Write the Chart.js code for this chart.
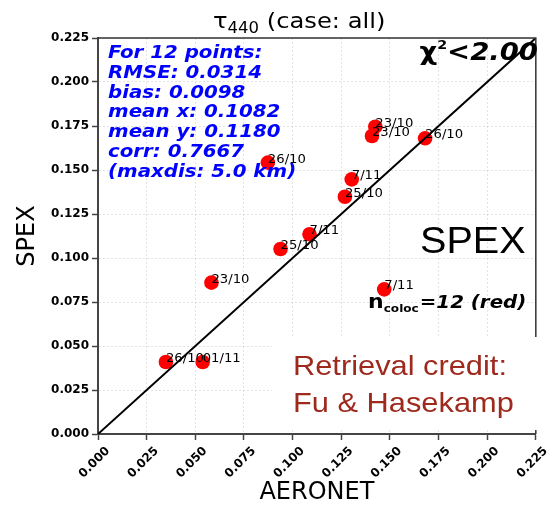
<!DOCTYPE html>
<html>
<head>
<meta charset="utf-8">
<script src="https://cdn.jsdelivr.net/npm/chart.js@4/dist/chart.umd.min.js"></script>
<style>
  html, body { margin: 0; padding: 0; background: #ffffff; }
  #wrap { width: 550px; height: 508px; }
</style>
</head>
<body>
<div id="wrap"><canvas id="c" width="550" height="508"></canvas></div>
<script>
// ---------- data ----------
const dates   = ['26/10','01/11','23/10','7/11','25/10','7/11','25/10','7/11','26/10','23/10','23/10','26/10'];
const aeronet = [0.0349, 0.0538, 0.0583, 0.1471, 0.0938, 0.1087, 0.1269, 0.1304, 0.0873, 0.1425, 0.1408, 0.1681];
const spex    = [0.0409, 0.0409, 0.0860, 0.0822, 0.1051, 0.1135, 0.1348, 0.1447, 0.1542, 0.1746, 0.1693, 0.1680];
const oneToOne = [0, 0.225];
const axisMin = 0, axisMax = 0.225, axisStep = 0.025;
const statsLines = ['For 12 points:', 'RMSE: 0.0314', 'bias: 0.0098', 'mean x: 0.1082', 'mean y: 0.1180', 'corr: 0.7667', '(maxdis: 5.0 km)'];
const chiText = ['\u03C7', '2', '<2.00'];
const ncolocText = ['n', 'coloc', '=12 (red)'];
const creditLines = ['Retrieval credit:', 'Fu & Hasekamp'];
const titleParts = ['\u03C4', '440', ' (case: all)'];
const xTitle = 'AERONET', yTitle = 'SPEX', bigLabel = 'SPEX';

// ---------- helpers ----------
const SX = 1.1; // horizontal stretch of the original picture
const FF = "'DejaVu Sans'";
function txt(ctx, s, x, y, font, color, align) {
  ctx.save();
  ctx.font = font;
  ctx.fillStyle = color;
  ctx.textBaseline = 'alphabetic';
  ctx.textAlign = align || 'left';
  ctx.translate(x, y);
  ctx.scale(SX, 1);
  ctx.fillText(s, 0, 0);
  const w = ctx.measureText(s).width * SX;
  ctx.restore();
  return w;
}
function tw(ctx, s, font) { ctx.save(); ctx.font = font; const w = ctx.measureText(s).width * SX; ctx.restore(); return w; }

const pointLabels = {
  id: 'pointLabels',
  afterDatasetsDraw(chart) {
    const ctx = chart.ctx;
    const meta = chart.getDatasetMeta(1);
    meta.data.forEach((el, i) => {
      txt(ctx, dates[i], el.x, el.y, '12px ' + FF, '#000');
    });
  }
};

const decorations = {
  id: 'decorations',
  afterDraw(chart) {
    const ctx = chart.ctx;
    const a = chart.chartArea;
    // top & right frame
    ctx.save();
    ctx.strokeStyle = '#333';
    ctx.lineWidth = 1.5;
    ctx.beginPath();
    ctx.moveTo(a.left, a.top); ctx.lineTo(a.right, a.top); ctx.lineTo(a.right, a.bottom);
    ctx.stroke();
    ctx.restore();

    // title
    let x = 213;
    x += txt(ctx, titleParts[0], x, 28, '22px ' + FF, '#000');
    x += txt(ctx, titleParts[1], x, 33, '15px ' + FF, '#000');
    txt(ctx, titleParts[2], x, 28, '22px ' + FF, '#000');

    // stats
    statsLines.forEach((s, i) => {
      txt(ctx, s, 108, 58 + 19.8 * i, 'italic bold 18px ' + FF, '#0000ff');
    });

    // chi^2
    const f1 = 'bold 25px ' + FF, f2 = 'bold 13px ' + FF, f3 = 'italic bold 25px ' + FF;
    const total = tw(ctx, chiText[0], f1) + tw(ctx, chiText[1], f2) + tw(ctx, chiText[2], f3);
    x = 538 - total;
    x += txt(ctx, chiText[0], x, 60, f1, '#000');
    x += txt(ctx, chiText[1], x, 49, f2, '#000');
    txt(ctx, chiText[2], x, 60, f3, '#000');

    // big SPEX
    txt(ctx, bigLabel, 420, 253, "36px 'Liberation Sans'", '#000');

    // n_coloc
    x = 368;
    x += txt(ctx, ncolocText[0], x, 308, 'bold 20px ' + FF, '#000');
    x += txt(ctx, ncolocText[1], x, 312, 'bold 11px ' + FF, '#000');
    txt(ctx, ncolocText[2], x + 1, 308, 'italic bold 18px ' + FF, '#000');

    // white box + credit
    ctx.save();
    ctx.fillStyle = '#ffffff';
    ctx.fillRect(272, 337, 278, 93);
    ctx.restore();
    txt(ctx, creditLines[0], 293, 375, "28px 'Liberation Sans'", '#9e2a1e');
    txt(ctx, creditLines[1], 293, 412, "28px 'Liberation Sans'", '#9e2a1e');
  }
};

const tickFont = { family: 'DejaVu Sans', weight: 'bold', size: 12 };
const gridOpts = { color: 'rgba(0,0,0,0.11)', lineWidth: 1, tickColor: '#444', tickLength: 6, tickWidth: 1.5 };

new Chart(document.getElementById('c'), {
  type: 'scatter',
  data: {
    datasets: [
      {
        type: 'line',
        data: oneToOne.map(v => ({ x: v, y: v })),
        borderColor: '#000',
        borderWidth: 2,
        pointRadius: 0,
        fill: false,
        order: 0
      },
      {
        data: aeronet.map((v, i) => ({ x: v, y: spex[i] })),
        backgroundColor: '#ff0000',
        borderWidth: 0,
        pointRadius: 7.3,
        pointHoverRadius: 7.3,
        order: 1
      }
    ]
  },
  options: {
    responsive: false,
    animation: false,
    events: [],
    layout: { padding: { top: 38, right: 13, left: 0, bottom: 0 } },
    plugins: { legend: { display: false }, tooltip: { enabled: false }, title: { display: false } },
    scales: {
      x: {
        type: 'linear', min: axisMin, max: axisMax,
        ticks: {
          stepSize: axisStep, color: '#000', font: tickFont,
          maxRotation: 45, minRotation: 45, labelOffset: 10, padding: 4,
          callback: v => Number(v).toFixed(3)
        },
        grid: gridOpts,
        border: { display: true, color: '#444', width: 2, dash: [2, 2] },
        title: { display: true, text: xTitle, color: '#000', font: { family: 'DejaVu Sans', size: 24 }, padding: { bottom: 1, top: 0 } },
        afterFit: s => { s.height = 74; }
      },
      y: {
        type: 'linear', min: axisMin, max: axisMax,
        ticks: {
          stepSize: axisStep, color: '#000', font: tickFont, padding: 3,
          callback: v => Number(v).toFixed(3)
        },
        grid: gridOpts,
        border: { display: true, color: '#444', width: 2, dash: [2, 2] },
        title: { display: true, text: yTitle, color: '#000', font: { family: 'DejaVu Sans', size: 24 }, padding: { top: 13, bottom: 0 } },
        afterFit: s => { s.width = 98; }
      }
    }
  },
  plugins: [pointLabels, decorations]
});
</script>
</body>
</html>
